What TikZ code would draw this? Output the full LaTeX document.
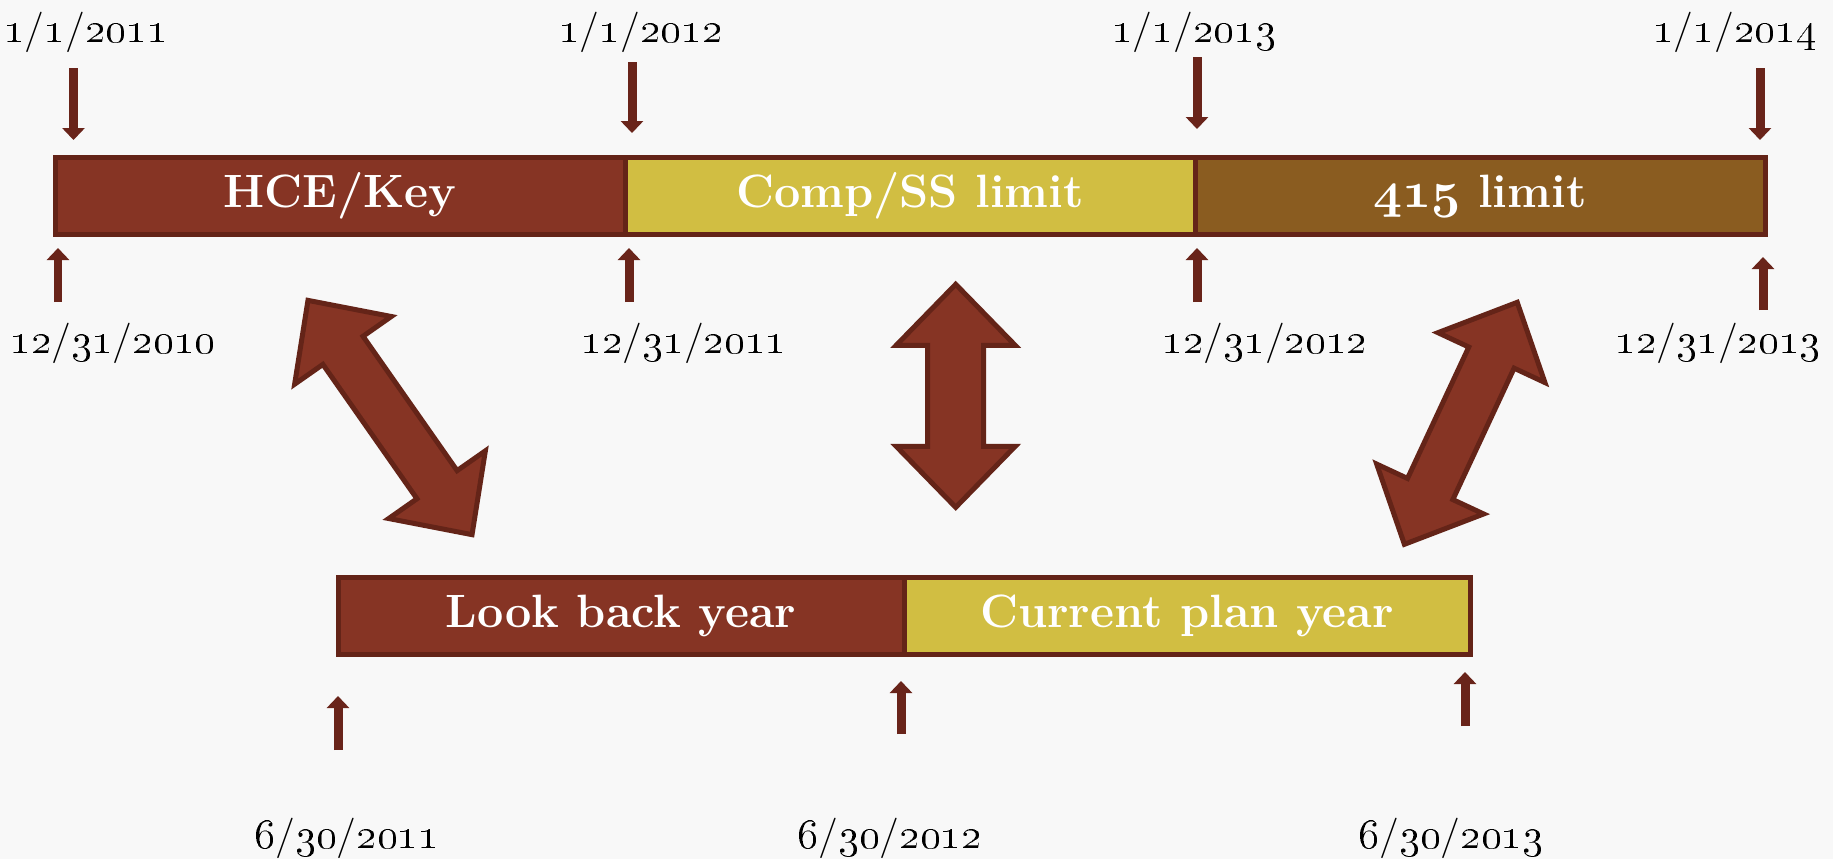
\documentclass[tikz,border=0pt]{standalone}
\usetikzlibrary{positioning, arrows.meta}

\definecolor{hcered}{RGB}{134,52,36}
\definecolor{compyel}{RGB}{209,190,66}
\definecolor{limbrown}{RGB}{138,92,32}
\definecolor{edgered}{RGB}{100,36,24}
\definecolor{tickred}{RGB}{105,36,26}
\definecolor{paper}{RGB}{248,248,248}

% dates with old style figures
\newcommand{\osdate}[3]{\oldstylenums{#1}/\oldstylenums{#2}/\oldstylenums{#3}}
\newcommand{\bfosn}[1]{{\usefont{OML}{cmm}{b}{it}#1}}

\tikzset{
	seg/.style={draw=edgered, line width=0.05cm, outer sep=0pt, inner sep=0pt,
		minimum width=5.70cm, minimum height=0.77cm, text=white,
		font=\fontsize{13.3}{15}\selectfont\bfseries},
	datelbl/.style={anchor=base, inner sep=0pt, font=\fontsize{11.5}{13}\selectfont},
	tick/.style={draw=tickred, line width=0.09cm,
		-{Triangle[width=0.22cm, length=0.12cm]}},
	bigarrow/.style={fill=hcered, draw=edgered, line width=0.05cm, line join=miter}
}

\begin{document}
\begin{tikzpicture}
		\fill[paper] (0,0) rectangle (18.33,-8.59);
		\useasboundingbox (0,0) rectangle (18.33,-8.59);
		
		% top bar
		\node[seg, fill=hcered] (hce) at (3.40,-1.96) {HCE/Key};
		\node[seg, fill=compyel, right=0pt of hce] (comp) {Comp/SS limit};
		\node[seg, fill=limbrown, right=0pt of comp] (lim) {\bfosn{415} limit};
		
		% bottom bar
		\node[seg, fill=hcered, minimum width=5.66cm] (look) at (6.21,-6.16) {Look back year};
		\node[seg, fill=compyel, minimum width=5.66cm, right=0pt of look] (cur) {Current plan year};
		
		% dates above
		\node[datelbl] (jan11) at (0.86,-0.42) {\osdate{1}{1}{2011}};
		\node[datelbl] (jan12) at (6.41,-0.42) {\osdate{1}{1}{2012}};
		\node[datelbl] (jan13) at (11.94,-0.42) {\osdate{1}{1}{2013}};
		\node[datelbl] (jan14) at (17.35,-0.42) {\osdate{1}{1}{2014}};
		\draw[tick] ([xshift=0.185cm, yshift=0.895cm]hce.north west) -- ([xshift=0.185cm, yshift=0.175cm]hce.north west);
		\draw[tick] ([xshift=0.07cm, yshift=0.955cm]comp.north west) -- ([xshift=0.07cm, yshift=0.245cm]comp.north west);
		\draw[tick] ([xshift=0.02cm, yshift=1.005cm]lim.north west) -- ([xshift=0.02cm, yshift=0.285cm]lim.north west);
		\draw[tick] ([xshift=-0.05cm, yshift=0.895cm]lim.north east) -- ([xshift=-0.05cm, yshift=0.175cm]lim.north east);
		
		% dates below
		\node[datelbl] (dec10) at (1.13,-3.53) {\osdate{12}{31}{2010}};
		\node[datelbl] (dec11) at (6.84,-3.53) {\osdate{12}{31}{2011}};
		\node[datelbl] (dec12) at (12.65,-3.53) {\osdate{12}{31}{2012}};
		\node[datelbl] (dec13) at (17.18,-3.53) {\osdate{12}{31}{2013}};
		\draw[tick] ([xshift=0.03cm, yshift=-0.675cm]hce.south west) -- ([xshift=0.03cm, yshift=-0.135cm]hce.south west);
		\draw[tick] ([xshift=0.04cm, yshift=-0.675cm]comp.south west) -- ([xshift=0.04cm, yshift=-0.135cm]comp.south west);
		\draw[tick] ([xshift=0.02cm, yshift=-0.675cm]lim.south west) -- ([xshift=0.02cm, yshift=-0.135cm]lim.south west);
		\draw[tick] ([xshift=-0.02cm, yshift=-0.755cm]lim.south east) -- ([xshift=-0.02cm, yshift=-0.225cm]lim.south east);
		
		% plan year dates
		\node[datelbl] (jun11) at (3.47,-8.48) {\osdate{6}{30}{2011}};
		\node[datelbl] (jun12) at (8.90,-8.48) {\osdate{6}{30}{2012}};
		\node[datelbl] (jun13) at (14.51,-8.48) {\osdate{6}{30}{2013}};
		\draw[tick] ([yshift=-0.955cm]look.south west) -- ([yshift=-0.415cm]look.south west);
		\draw[tick] ([xshift=-0.03cm, yshift=-0.795cm]cur.south west) -- ([xshift=-0.03cm, yshift=-0.265cm]cur.south west);
		\draw[tick] ([xshift=-0.05cm, yshift=-0.715cm]cur.south east) -- ([xshift=-0.05cm, yshift=-0.175cm]cur.south east);
		
		% big double arrows
		\begin{scope}[shift={(3.90,-4.175)}, rotate=-55]
			\draw[bigarrow] (-1.43,0) -- (-0.82,0.59) -- (-0.82,0.245) -- (0.82,0.245) -- (0.82,0.59)
			-- (1.43,0) -- (0.82,-0.59) -- (0.82,-0.245) -- (-0.82,-0.245) -- (-0.82,-0.59) -- cycle;
		\end{scope}
		\begin{scope}[shift={(9.557,-3.958)}, rotate=90]
			\draw[bigarrow] (-1.115,0) -- (-0.505,0.595) -- (-0.505,0.28) -- (0.505,0.28) -- (0.505,0.595)
			-- (1.115,0) -- (0.505,-0.595) -- (0.505,-0.28) -- (-0.505,-0.28) -- (-0.505,-0.595) -- cycle;
		\end{scope}
		\begin{scope}[shift={(14.608,-4.233)}, rotate=65]
			\draw[bigarrow] (-1.335,0) -- (-0.725,0.59) -- (-0.725,0.25) -- (0.725,0.25) -- (0.725,0.59)
			-- (1.335,0) -- (0.725,-0.59) -- (0.725,-0.25) -- (-0.725,-0.25) -- (-0.725,-0.59) -- cycle;
		\end{scope}
\end{tikzpicture}
\end{document}
